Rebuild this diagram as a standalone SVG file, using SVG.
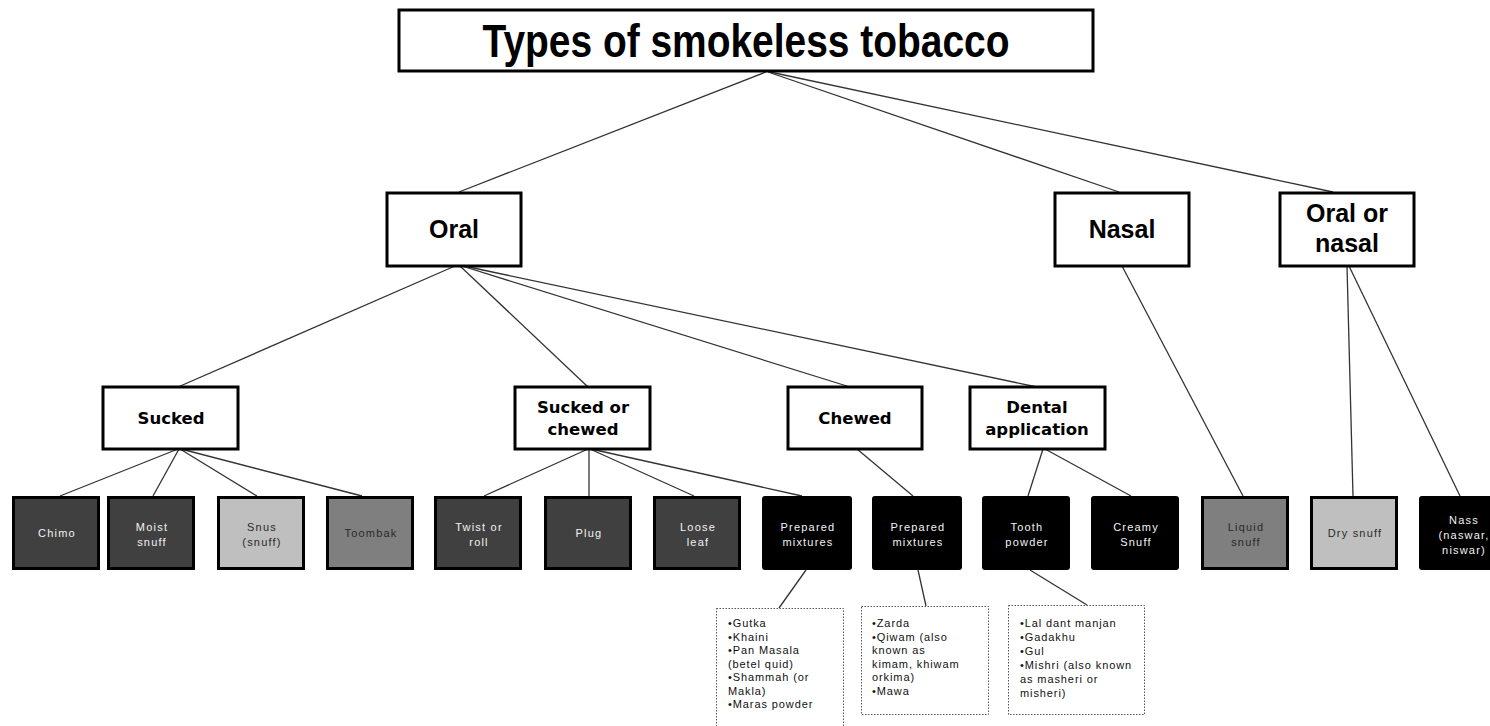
<svg xmlns="http://www.w3.org/2000/svg" width="1490" height="726" viewBox="0 0 1490 726">
<style>
.box{fill:#fff;stroke:#000;stroke-width:3}
.t1{font-family:"Liberation Sans",Arial,sans-serif;font-weight:bold;font-size:47px;fill:#000;text-anchor:middle}
.t2{font-family:"Liberation Sans",Arial,sans-serif;font-weight:bold;font-size:25px;fill:#000;text-anchor:middle}
.t3{font-family:"DejaVu Sans",Verdana,sans-serif;font-weight:bold;font-size:16.5px;fill:#000;text-anchor:middle}
.leaf{stroke:#000;stroke-width:3}
.dk{fill:#404040}.md{fill:#7f7f7f}.lt{fill:#bfbfbf}.bk{fill:#000}
.lt1{font-family:"Liberation Sans",Arial,sans-serif;font-size:11px;letter-spacing:1.2px;text-anchor:middle}
.wt{fill:#f2f2f2}.dt{fill:#2a2a2a}
.note{fill:#fff;stroke:#555;stroke-width:1;stroke-dasharray:1.5 1.5}
.nt{font-family:"Liberation Sans",Arial,sans-serif;font-size:11px;letter-spacing:0.9px;fill:#111}
.conn line{stroke:#333;stroke-width:1.3}
</style>
<rect width="1490" height="726" fill="#fff"/>
<g class="conn">
<line x1="766" y1="72" x2="459" y2="192"/>
<line x1="768" y1="72" x2="1119" y2="192"/>
<line x1="770" y1="72" x2="1333" y2="192"/>
<line x1="455" y1="266" x2="178" y2="387"/>
<line x1="460" y1="266" x2="588" y2="387"/>
<line x1="462" y1="266" x2="850" y2="387"/>
<line x1="464" y1="266" x2="1037" y2="387"/>
<line x1="178" y1="449" x2="60" y2="496"/>
<line x1="179" y1="449" x2="153" y2="496"/>
<line x1="180" y1="449" x2="257" y2="496"/>
<line x1="181" y1="449" x2="362" y2="496"/>
<line x1="588" y1="449" x2="484" y2="496"/>
<line x1="589" y1="449" x2="589" y2="496"/>
<line x1="590" y1="449" x2="694" y2="496"/>
<line x1="591" y1="449" x2="802" y2="496"/>
<line x1="857" y1="449" x2="913" y2="496"/>
<line x1="1043" y1="449" x2="1028" y2="496"/>
<line x1="1045" y1="449" x2="1131" y2="496"/>
<line x1="1122" y1="266" x2="1243" y2="496"/>
<line x1="1347" y1="266" x2="1353" y2="496"/>
<line x1="1349" y1="266" x2="1460" y2="496"/>
<line x1="806" y1="570" x2="779" y2="608"/>
<line x1="918" y1="570" x2="926" y2="606"/>
<line x1="1030" y1="570" x2="1087" y2="605"/>
</g>
<g id="title"><rect class="box" x="399" y="10" width="694" height="61"/><text class="t1" x="746" y="57" textLength="527" lengthAdjust="spacingAndGlyphs">Types of smokeless tobacco</text></g>
<g id="oral"><rect class="box" x="387" y="193" width="134" height="73"/><text class="t2" x="454" y="238">Oral</text></g>
<g id="nasal"><rect class="box" x="1055" y="193" width="134" height="73"/><text class="t2" x="1122" y="238">Nasal</text></g>
<g id="oralnasal"><rect class="box" x="1280" y="193" width="134" height="73"/><text class="t2" x="1347" y="222">Oral or</text><text class="t2" x="1347" y="252">nasal</text></g>
<g id="sucked"><rect class="box" x="103" y="387" width="135" height="62"/><text class="t3" x="171" y="424">Sucked</text></g>
<g id="suckedchewed"><rect class="box" x="515" y="387" width="135" height="62"/><text class="t3" x="583" y="413">Sucked or</text><text class="t3" x="583" y="435">chewed</text></g>
<g id="chewed"><rect class="box" x="788" y="387" width="134" height="62"/><text class="t3" x="855" y="424">Chewed</text></g>
<g id="dental"><rect class="box" x="970" y="387" width="135" height="62"/><text class="t3" x="1037" y="413">Dental</text><text class="t3" x="1037" y="435">application</text></g>
<g id="chimo"><rect class="leaf dk" x="13.5" y="497.5" width="85" height="71"/><text class="lt1 wt" x="57" y="537">Chimo</text></g>
<g id="moist"><rect class="leaf dk" x="108.5" y="497.5" width="85" height="71"/><text class="lt1 wt" x="152" y="531">Moist</text><text class="lt1 wt" x="152" y="546">snuff</text></g>
<g id="snus"><rect class="leaf lt" x="218.5" y="497.5" width="85" height="71"/><text class="lt1 dt" x="262" y="531">Snus</text><text class="lt1 dt" x="262" y="546">(snuff)</text></g>
<g id="toombak"><rect class="leaf md" x="327.5" y="497.5" width="85" height="71"/><text class="lt1 dt" x="371" y="537">Toombak</text></g>
<g id="twist"><rect class="leaf dk" x="435.5" y="497.5" width="85" height="71"/><text class="lt1 wt" x="479" y="531">Twist or</text><text class="lt1 wt" x="479" y="546">roll</text></g>
<g id="plug"><rect class="leaf dk" x="545.5" y="497.5" width="85" height="71"/><text class="lt1 wt" x="589" y="537">Plug</text></g>
<g id="loose"><rect class="leaf dk" x="654.5" y="497.5" width="85" height="71"/><text class="lt1 wt" x="698" y="531">Loose</text><text class="lt1 wt" x="698" y="546">leaf</text></g>
<g id="prep1"><rect class="bk" x="762" y="496" width="90" height="74" rx="3"/><text class="lt1 wt" x="808" y="531">Prepared</text><text class="lt1 wt" x="808" y="546">mixtures</text></g>
<g id="prep2"><rect class="bk" x="872" y="496" width="90" height="74" rx="3"/><text class="lt1 wt" x="918" y="531">Prepared</text><text class="lt1 wt" x="918" y="546">mixtures</text></g>
<g id="tooth"><rect class="bk" x="982" y="496" width="88" height="74" rx="3"/><text class="lt1 wt" x="1027" y="531">Tooth</text><text class="lt1 wt" x="1027" y="546">powder</text></g>
<g id="creamy"><rect class="bk" x="1091" y="496" width="88" height="74" rx="3"/><text class="lt1 wt" x="1136" y="531">Creamy</text><text class="lt1 wt" x="1136" y="546">Snuff</text></g>
<g id="liquid"><rect class="leaf md" x="1202.5" y="497.5" width="85" height="71"/><text class="lt1 dt" x="1246" y="531">Liquid</text><text class="lt1 dt" x="1246" y="546">snuff</text></g>
<g id="dry"><rect class="leaf lt" x="1311.5" y="497.5" width="85" height="71"/><text class="lt1 dt" x="1355" y="537">Dry snuff</text></g>
<g id="nass"><rect class="bk" x="1419" y="496" width="88" height="74" rx="3"/><text class="lt1 wt" x="1464" y="524">Nass</text><text class="lt1 wt" x="1464" y="539">(naswar,</text><text class="lt1 wt" x="1464" y="554">niswar)</text></g>
<g id="note1"><rect class="note" x="716.5" y="608.5" width="127" height="130"/>
<text class="nt" x="728" y="627">•Gutka</text><text class="nt" x="728" y="640.5">•Khaini</text><text class="nt" x="728" y="654">•Pan Masala</text><text class="nt" x="728" y="667.5">(betel quid)</text><text class="nt" x="728" y="681">•Shammah (or</text><text class="nt" x="728" y="694.5">Makla)</text><text class="nt" x="728" y="708">•Maras powder</text></g>
<g id="note2"><rect class="note" x="861.5" y="606.5" width="127" height="108"/>
<text class="nt" x="872" y="627">•Zarda</text><text class="nt" x="872" y="640.5">•Qiwam (also</text><text class="nt" x="872" y="654">known as</text><text class="nt" x="872" y="667.5">kimam, khiwam</text><text class="nt" x="872" y="681">orkima)</text><text class="nt" x="872" y="694.5">•Mawa</text></g>
<g id="note3"><rect class="note" x="1008.5" y="605.5" width="136" height="109"/>
<text class="nt" x="1020" y="627">•Lal dant manjan</text><text class="nt" x="1020" y="641">•Gadakhu</text><text class="nt" x="1020" y="655">•Gul</text><text class="nt" x="1020" y="669">•Mishri (also known</text><text class="nt" x="1020" y="683">as masheri or</text><text class="nt" x="1020" y="697">misheri)</text></g>
</svg>
